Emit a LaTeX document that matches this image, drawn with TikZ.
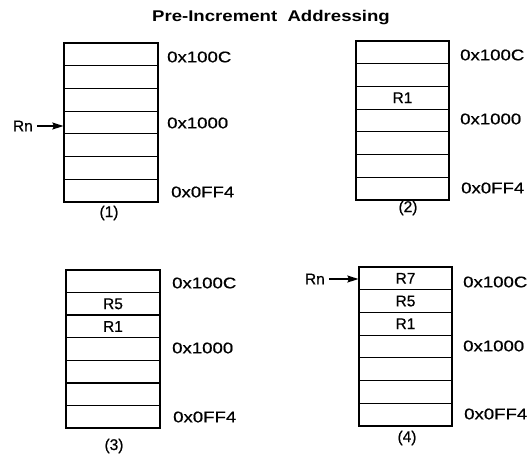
\documentclass[tikz,border=0pt]{standalone}
\usepackage{fontspec}
\setmainfont{Liberation Sans}[FakeBold=0.6]
\newfontfamily\hexfont{Liberation Sans}[FakeStretch=1.2,FakeBold=0.6]
\newfontfamily\titlefont{Liberation Sans Bold}[FakeStretch=1.2]
\usetikzlibrary{arrows.meta}
\begin{document}
\begin{tikzpicture}[x=1pt,y=-1pt,
  cell/.style={draw, line width=1.2pt, minimum width=#1, minimum height=22.7pt, inner sep=0pt, font=\fontsize{15.5}{15.5}\selectfont},
  cell/.default=94pt,
  addr/.style={anchor=west, inner sep=0pt, font=\hexfont\fontsize{15.5}{15.5}\selectfont},
  capt/.style={inner sep=0pt, font=\fontsize{15.5}{15.5}\selectfont},
  ptr/.style={-{Stealth[length=11pt,width=7pt,inset=1.5pt]}, line width=1.5pt},
  rn/.style={anchor=east, inner sep=0pt, font=\fontsize{15.5}{15.5}\selectfont}]
\useasboundingbox (0,0) rectangle (527,456);
\node[inner sep=0pt, font=\titlefont\fontsize{15.5}{15.5}\selectfont] (title) at (271,18) {Pre-Increment\ \ Addressing};
% column 1
\foreach \i/\t in {1/{},2/{},3/{},4/{},5/{},6/{},7/{}}
  \node[cell=94pt] (a\i) at (111,{43+(\i-0.5)*22.71}) {\t};
% column 2
\foreach \i/\t in {1/{},2/{},3/R1,4/{},5/{},6/{},7/{}}
  \node[cell=93pt] (b\i) at (402.5,{41+(\i-0.5)*22.71}) {\t};
% column 3
\foreach \i/\t in {1/{},2/R5,3/R1,4/{},5/{},6/{},7/{}}
  \node[cell=94pt] (c\i) at (113,{270+(\i-0.5)*22.57}) {\t};
% column 4
\foreach \i/\t in {1/R7,2/R5,3/R1,4/{},5/{},6/{},7/{}}
  \node[cell=93pt] (d\i) at (405.5,{267+(\i-0.5)*22.71}) {\t};
% addresses
\node[addr] (a100c) at (167,57) {0x100C};
\node[addr] (a1000) at (167,123) {0x1000};
\node[addr] (a0ff4) at (171,192) {0x0FF4};
\node[addr] (b100c) at (460,55) {0x100C};
\node[addr] (b1000) at (460,119) {0x1000};
\node[addr] (b0ff4) at (461,188) {0x0FF4};
\node[addr] (c100c) at (172,283) {0x100C};
\node[addr] (c1000) at (172,348) {0x1000};
\node[addr] (c0ff4) at (173,417) {0x0FF4};
\node[addr] (d100c) at (463,282) {0x100C};
\node[addr] (d1000) at (463,346) {0x1000};
\node[addr] (d0ff4) at (464,414) {0x0FF4};
% captions
\node[capt] (k1) at (109,213) {(1)};
\node[capt] (k2) at (408,208) {(2)};
\node[capt] (k3) at (114,446) {(3)};
\node[capt] (k4) at (407,438) {(4)};
% pointers
\node[rn] (rn1) at (33,126) {Rn};
\draw[ptr] (rn1.east) ++(4pt,0) -- (a4.west |- rn1.east);
\node[rn] (rn4) at (325,279) {Rn};
\draw[ptr] (rn4.east) ++(4pt,0) -- (d1.west |- rn4.east);
\end{tikzpicture}
\end{document}
